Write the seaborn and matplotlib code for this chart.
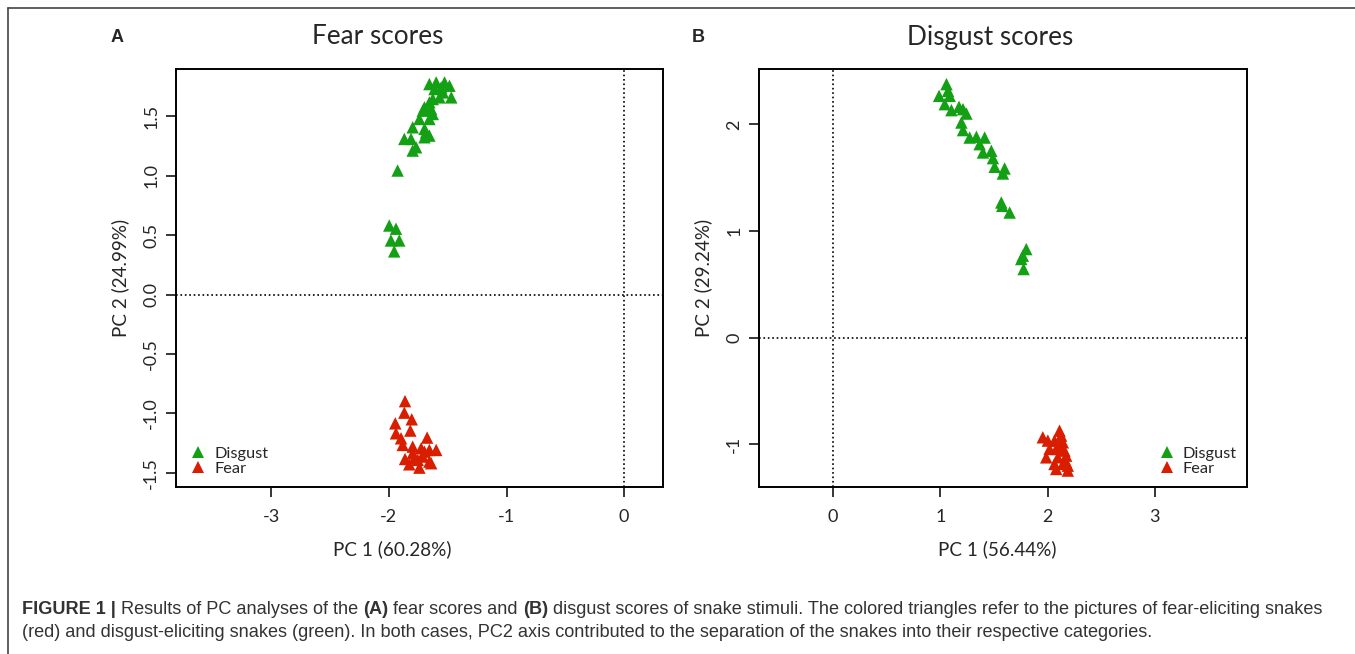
import matplotlib
matplotlib.use("Agg")
import matplotlib.pyplot as plt
import seaborn as sns
import pandas as pd
from matplotlib.lines import Line2D

# PCA scores, panel A (fear scores)
fear_dis_x = [-1.656, -1.598, -1.527, -1.485, -1.556, -1.613, -1.541, -1.470, -1.570, -1.627,
              -1.656, -1.698, -1.641, -1.712, -1.627, -1.741, -1.656, -1.798, -1.698, -1.684,
              -1.869, -1.812, -1.698, -1.656, -1.769, -1.798, -1.926, -1.997, -1.940, -1.983,
              -1.912, -1.955]
fear_dis_y = [1.773, 1.787, 1.787, 1.759, 1.745, 1.731, 1.703, 1.661, 1.661, 1.647,
              1.619, 1.577, 1.563, 1.549, 1.521, 1.479, 1.479, 1.409, 1.395, 1.367,
              1.311, 1.311, 1.325, 1.339, 1.241, 1.213, 1.045, 0.582, 0.555, 0.456,
              0.456, 0.364]
fear_fear_x = [-1.863, -1.869, -1.806, -1.946, -1.940, -1.818, -1.897, -1.675, -1.883, -1.798,
               -1.726, -1.656, -1.598, -1.798, -1.698, -1.863, -1.784, -1.712, -1.755, -1.656,
               -1.827, -1.741, -1.641]
fear_fear_y = [-0.897, -0.994, -1.050, -1.084, -1.168, -1.145, -1.210, -1.204, -1.266, -1.280,
               -1.294, -1.308, -1.308, -1.336, -1.322, -1.384, -1.378, -1.364, -1.392, -1.406,
               -1.429, -1.457, -1.420]

# PCA scores, panel B (disgust scores)
dis_dis_x = [1.058, 1.073, 0.989, 1.088, 1.042, 1.104, 1.175, 1.212, 1.244, 1.197,
             1.212, 1.274, 1.337, 1.414, 1.367, 1.398, 1.476, 1.491, 1.507, 1.600,
             1.584, 1.569, 1.578, 1.647, 1.802, 1.770, 1.755, 1.777]
dis_dis_y = [2.378, 2.315, 2.268, 2.268, 2.190, 2.134, 2.165, 2.143, 2.102, 2.018,
             1.947, 1.877, 1.884, 1.877, 1.815, 1.737, 1.753, 1.684, 1.603, 1.587,
             1.540, 1.268, 1.237, 1.174, 0.831, 0.769, 0.738, 0.644]
dis_fear_x = [1.956, 2.003, 2.112, 2.127, 2.065, 2.143, 2.019, 2.081, 2.158, 1.988,
              2.096, 2.174, 2.065, 2.143, 2.189, 2.081, 2.189, 2.174, 2.112]
dis_fear_y = [-0.934, -0.965, -0.872, -0.918, -0.965, -0.981, -1.043, -1.043, -1.059, -1.122,
              -1.122, -1.106, -1.184, -1.184, -1.200, -1.231, -1.246, -1.168, -1.012]

groups = ["Disgust", "Fear"]
colors = {"Disgust": "#14a014", "Fear": "#d91e00"}

sns.set_style("white")
plt.rcParams["font.family"] = ["Lato", "DejaVu Sans"]
plt.rcParams["axes.unicode_minus"] = False

W, H = 1355, 654
fig = plt.figure(figsize=(W / 100, H / 100), dpi=100)


def make_df(dx, dy, fx, fy):
    return pd.DataFrame({
        "pc1": dx + fx,
        "pc2": dy + fy,
        "group": ["Disgust"] * len(dx) + ["Fear"] * len(fx),
    })


def px_axes(l, r, t, b):
    return fig.add_axes([l / W, 1 - b / H, (r - l) / W, (b - t) / H])


def style_axes(ax, xticks, yticks, xlim, ylim, ytick_fmt):
    ax.set_xlim(*xlim)
    ax.set_ylim(*ylim)
    ax.axhline(0, ls=":", color="black", lw=1.2, zorder=0)
    ax.axvline(0, ls=":", color="black", lw=1.2, zorder=0)
    ax.set_xticks(xticks)
    ax.set_yticks(yticks)
    ax.set_yticklabels([ytick_fmt(v) for v in yticks], rotation=90, va="center")
    ax.tick_params(direction="out", length=7, width=1.3, labelsize=13,
                   bottom=True, left=True, pad=5)
    ax.tick_params(axis="x", pad=9)
    for sp in ax.spines.values():
        sp.set_linewidth(1.4)
        sp.set_color("black")
    ax.set_xlabel("")
    ax.set_ylabel("")


legend_kw = dict(frameon=False, title=None, fontsize=11.8, handletextpad=0.0,
                 labelspacing=0.02, markerscale=0.9, borderaxespad=0.3)

# panel A
df_a = make_df(fear_dis_x, fear_dis_y, fear_fear_x, fear_fear_y)
ax1 = px_axes(176, 663, 69, 487)
sns.scatterplot(data=df_a, x="pc1", y="pc2", hue="group", hue_order=groups,
                palette=colors, marker="^", s=80, linewidth=0, ax=ax1)
style_axes(ax1, [-3, -2, -1, 0], [-1.5, -1.0, -0.5, 0.0, 0.5, 1.0, 1.5],
           (-3.81, 0.33), (-1.62, 1.90), lambda v: f"{v:.1f}")
sns.move_legend(ax1, "lower left", bbox_to_anchor=(-0.012, 0.0), **legend_kw)

# panel B
df_b = make_df(dis_dis_x, dis_dis_y, dis_fear_x, dis_fear_y)
ax2 = px_axes(759, 1247, 69, 487)
sns.scatterplot(data=df_b, x="pc1", y="pc2", hue="group", hue_order=groups,
                palette=colors, marker="^", s=80, linewidth=0, ax=ax2)
style_axes(ax2, [0, 1, 2, 3], [-1, 0, 1, 2],
           (-0.69, 3.86), (-1.40, 2.52), lambda v: f"{v:d}")
sns.move_legend(ax2, "lower left", bbox_to_anchor=(0.778, 0.0), **legend_kw)

# titles, panel letters and axis labels
fig.text(378 / W, 1 - 37 / H, "Fear scores", ha="center", va="center", fontsize=18.8)
fig.text(990 / W, 1 - 37 / H, "Disgust scores", ha="center", va="center", fontsize=18.8)
fig.text(117 / W, 1 - 37 / H, "A", ha="center", va="center", fontsize=13,
         fontweight="bold", family=["Liberation Sans", "DejaVu Sans"])
fig.text(698 / W, 1 - 37 / H, "B", ha="center", va="center", fontsize=13,
         fontweight="bold", family=["Liberation Sans", "DejaVu Sans"])
fig.text(392 / W, 1 - 549 / H, "PC 1 (60.28%)", ha="center", va="center", fontsize=13.6)
fig.text(997 / W, 1 - 549 / H, "PC 1 (56.44%)", ha="center", va="center", fontsize=13.6)
fig.text(120 / W, 1 - 278 / H, "PC 2 (24.99%)", ha="center", va="center",
         fontsize=13.6, rotation=90)
fig.text(703 / W, 1 - 278 / H, "PC 2 (29.24%)", ha="center", va="center",
         fontsize=13.6, rotation=90)

# outer frame (left and top edges)
fig.add_artist(Line2D([8 / W, 8 / W], [0, 1 - 8 / H], color="#444444", lw=1.2,
                      transform=fig.transFigure))
fig.add_artist(Line2D([8 / W, 1], [1 - 8 / H, 1 - 8 / H], color="#444444", lw=1.2,
                      transform=fig.transFigure))

# caption with bold runs
cap_family = ["Liberation Sans", "DejaVu Sans"]
cap_lines = [
    [("FIGURE 1 | ", "bold"), ("Results of PC analyses of the ", "normal"), ("(A)", "bold"),
     (" fear scores and ", "normal"), ("(B)", "bold"),
     (" disgust scores of snake stimuli. The colored triangles refer to the pictures of fear-eliciting snakes", "normal")],
    [("(red) and disgust-eliciting snakes (green). In both cases, PC2 axis contributed to the separation of the snakes into their respective categories.", "normal")],
]
renderer = fig.canvas.get_renderer()
for i, runs in enumerate(cap_lines):
    x = 22
    y = 614 + i * 23
    for txt, wt in runs:
        t = fig.text(x / W, 1 - y / H, txt, ha="left", va="baseline", fontsize=13.05,
                     fontweight=wt, color="#333333", family=cap_family)
        x += t.get_window_extent(renderer).width

fig.savefig("out.png", dpi=100)
